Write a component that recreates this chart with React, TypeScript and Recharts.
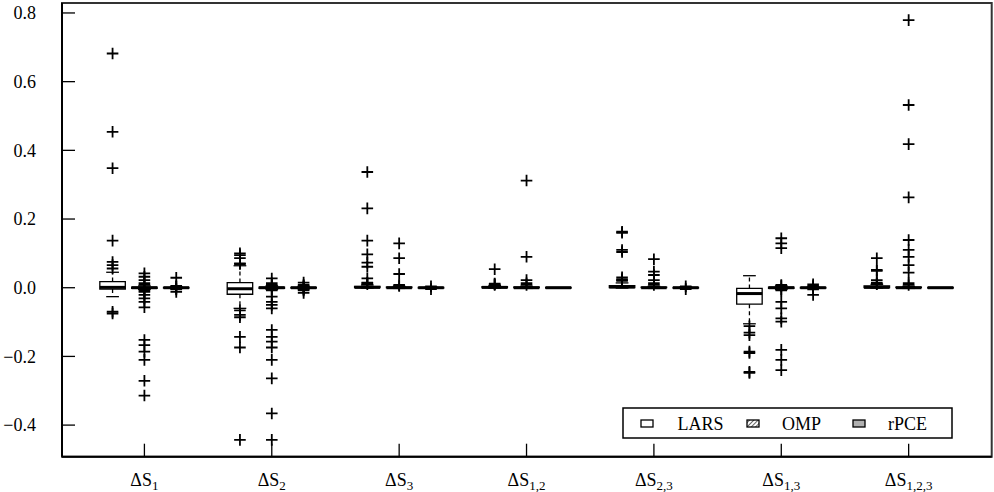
import React from "react";
import {
  ComposedChart,
  XAxis,
  YAxis,
  Scatter,
  ReferenceArea,
  ReferenceLine,
  Legend,
} from "recharts";

// ---------- data ----------
const categorySubs = ["1", "2", "3", "1,2", "2,3", "1,3", "1,2,3"];
const yTicks = [-0.4, -0.2, 0.0, 0.2, 0.4, 0.6, 0.8];

// LARS box statistics per category
const larsQ1 = [-0.004, -0.019, 0.0, 0.0, 0.0, -0.048, 0.0];
const larsMed = [0.001, -0.003, 0.001, 0.001, 0.002, -0.017, 0.001];
const larsQ3 = [0.018, 0.015, 0.004, 0.003, 0.006, -0.002, 0.005];
const larsWLo = [-0.026, -0.06, -0.001, -0.001, -0.001, -0.105, -0.001];
const larsWHi = [0.045, 0.064, 0.008, 0.006, 0.014, 0.035, 0.01];
const larsOut = [
  [0.682, 0.454, 0.348, 0.137, 0.075, 0.066, 0.056, -0.07, -0.075],
  [0.1, 0.095, 0.086, 0.071, 0.069, -0.066, -0.079, -0.086, -0.143, -0.174, -0.443],
  [0.337, 0.231, 0.137, 0.097, 0.073, 0.061, 0.027, 0.015, 0.013, 0.01],
  [0.054, 0.012, 0.01, 0.008],
  [0.163, 0.16, 0.11, 0.104, 0.03, 0.025, 0.022, 0.02],
  [-0.112, -0.131, -0.138, -0.186, -0.19, -0.245, -0.248],
  [0.086, 0.052, 0.049, 0.022, 0.015, 0.012, 0.01],
];

// OMP box statistics per category
const ompQ1 = [-0.002, -0.002, 0.0, 0.0, 0.0, -0.002, 0.0];
const ompMed = [0.0, 0.0, 0.0, 0.0, 0.0, 0.0, 0.0];
const ompQ3 = [0.002, 0.002, 0.002, 0.002, 0.002, 0.002, 0.002];
const ompWLo = [-0.005, -0.005, -0.002, -0.002, -0.002, -0.005, -0.002];
const ompWHi = [0.005, 0.005, 0.004, 0.004, 0.004, 0.005, 0.004];
const ompOut = [
  [0.042, 0.032, 0.022, 0.013, 0.008, -0.008, -0.012, -0.021, -0.031, -0.041, -0.057, -0.152, -0.167, -0.186, -0.21, -0.271, -0.314],
  [0.027, 0.013, 0.008, 0.005, -0.005, -0.008, -0.026, -0.041, -0.05, -0.06, -0.123, -0.143, -0.157, -0.174, -0.21, -0.264, -0.366, -0.443],
  [0.129, 0.086, 0.04, 0.008, 0.005],
  [0.312, 0.09, 0.022, 0.013, 0.008],
  [0.083, 0.047, 0.037, 0.022, 0.013, 0.008],
  [0.144, 0.129, 0.115, 0.008, 0.005, -0.005, -0.008, -0.041, -0.06, -0.089, -0.099, -0.181, -0.21, -0.24],
  [0.779, 0.532, 0.418, 0.263, 0.139, 0.11, 0.09, 0.066, 0.044, 0.013, 0.008],
];

// rPCE box statistics per category
const rpceQ1 = [-0.001, -0.001, -0.001, -0.001, -0.001, -0.001, -0.001];
const rpceMed = [0.0, 0.0, 0.0, 0.0, 0.0, 0.0, 0.0];
const rpceQ3 = [0.001, 0.001, 0.001, 0.001, 0.001, 0.001, 0.001];
const rpceWLo = [-0.002, -0.002, -0.002, -0.001, -0.002, -0.002, -0.001];
const rpceWHi = [0.002, 0.002, 0.002, 0.001, 0.002, 0.002, 0.001];
const rpceOut = [
  [0.029, 0.005, 0.003, -0.003, -0.005, -0.012],
  [0.015, 0.008, 0.005, 0.003, -0.003, -0.005, -0.008, -0.015],
  [0.004, -0.004],
  [],
  [0.004, -0.004],
  [0.01, 0.005, -0.005, -0.021],
  [],
];

const methodNames = ["LARS", "OMP", "rPCE"];
const methodOffsets = [-0.25, 0, 0.25];

// ---------- styling ----------
const FONT = "Liberation Serif";
const textStyle: React.CSSProperties = { fontFamily: FONT, fontSize: 18 };
const INK = "#000";
const X_DOMAIN: [number, number] = [0.353, 7.652];
const Y_DOMAIN: [number, number] = [-0.492, 0.829];
const HALF_BOX = 0.1;
const HALF_CAP = 0.05;

const methods = [
  { name: methodNames[0], offset: methodOffsets[0], fill: "#ffffff", q1: larsQ1, med: larsMed, q3: larsQ3, lo: larsWLo, hi: larsWHi, out: larsOut },
  { name: methodNames[1], offset: methodOffsets[1], fill: "url(#hatchOMP)", q1: ompQ1, med: ompMed, q3: ompQ3, lo: ompWLo, hi: ompWHi, out: ompOut },
  { name: methodNames[2], offset: methodOffsets[2], fill: "#b0b0b0", q1: rpceQ1, med: rpceMed, q3: rpceQ3, lo: rpceWLo, hi: rpceWHi, out: rpceOut },
];

const fmtY = (v: number) => v.toFixed(1).replace("-", "\u2212");

const XTick = (props: any) => {
  const { x, y, payload } = props;
  const i = Math.round(payload.value) - 1;
  return (
    <g>
      <line x1={x} x2={x} y1={y} y2={y - 13} stroke={INK} strokeWidth={1.3} />
      <text x={x} y={y + 29.5} textAnchor="middle" style={textStyle} fill={INK}>
        ΔS
        <tspan style={{ fontSize: 13 }} dy={4}>
          {categorySubs[i]}
        </tspan>
      </text>
    </g>
  );
};

const YTick = (props: any) => {
  const { x, y, payload } = props;
  return (
    <g>
      <line x1={x} x2={x + 13} y1={y} y2={y} stroke={INK} strokeWidth={1.3} />
      <text x={x - 26} y={y} dy="0.35em" textAnchor="end" style={textStyle} fill={INK}>
        {fmtY(payload.value)}
      </text>
    </g>
  );
};

const PlusShape = (props: any) => {
  const { cx, cy } = props;
  if (cx == null || cy == null) return null;
  const r = 5.8;
  return (
    <path
      d={`M${cx - r},${cy}H${cx + r}M${cx},${cy - r}V${cy + r}`}
      stroke={INK}
      strokeWidth={1.8}
      fill="none"
    />
  );
};

const LegendBox = () => {
  const items = [
    { name: methodNames[0], sx: 19, tx: 55.5, fill: "#ffffff" },
    { name: methodNames[1], sx: 125, tx: 160, fill: "url(#hatchLeg)" },
    { name: methodNames[2], sx: 231, tx: 266, fill: "#b0b0b0" },
  ];
  return (
    <svg width={331} height={32} style={{ display: "block" }}>
      <defs>
        <pattern id="hatchLeg" patternUnits="userSpaceOnUse" width={3} height={3} patternTransform="rotate(45)">
          <line x1={0} y1={0} x2={0} y2={3} stroke={INK} strokeWidth={1.2} />
        </pattern>
      </defs>
      <rect x={1} y={1} width={329} height={30} fill="#fff" stroke={INK} strokeWidth={1.5} />
      {items.map((it) => (
        <g key={it.name}>
          <rect x={it.sx} y={13} width={12} height={7} fill={it.fill} stroke={INK} strokeWidth={1.3} />
          <text x={it.tx} y={23} style={textStyle} fill={INK}>
            {it.name}
          </text>
        </g>
      ))}
    </svg>
  );
};

export default function App() {
  const boxElements: React.ReactNode[] = [];
  methods.forEach((m, mi) => {
    categorySubs.forEach((_, ci) => {
      const x = ci + 1 + m.offset;
      const k = `${mi}-${ci}`;
      if (m.hi[ci] > m.q3[ci]) {
        boxElements.push(
          <ReferenceLine key={`wh-${k}`} segment={[{ x, y: m.q3[ci] }, { x, y: m.hi[ci] }]} stroke={INK} strokeWidth={1.3} strokeDasharray="4 3" />,
          <ReferenceLine key={`ch-${k}`} segment={[{ x: x - HALF_CAP, y: m.hi[ci] }, { x: x + HALF_CAP, y: m.hi[ci] }]} stroke={INK} strokeWidth={1.3} />
        );
      }
      if (m.lo[ci] < m.q1[ci]) {
        boxElements.push(
          <ReferenceLine key={`wl-${k}`} segment={[{ x, y: m.q1[ci] }, { x, y: m.lo[ci] }]} stroke={INK} strokeWidth={1.3} strokeDasharray="4 3" />,
          <ReferenceLine key={`cl-${k}`} segment={[{ x: x - HALF_CAP, y: m.lo[ci] }, { x: x + HALF_CAP, y: m.lo[ci] }]} stroke={INK} strokeWidth={1.3} />
        );
      }
      boxElements.push(
        <ReferenceArea
          key={`bx-${k}`}
          x1={x - HALF_BOX}
          x2={x + HALF_BOX}
          y1={m.q1[ci]}
          y2={m.q3[ci]}
          fill={m.fill}
          fillOpacity={1}
          stroke={INK}
          strokeWidth={1.3}
          ifOverflow="visible"
        />,
        <ReferenceLine
          key={`md-${k}`}
          segment={[{ x: x - HALF_BOX, y: m.med[ci] }, { x: x + HALF_BOX, y: m.med[ci] }]}
          stroke={INK}
          strokeWidth={3}
        />
      );
    });
  });

  const outlierSeries = methods.map((m) =>
    m.out.flatMap((vals, ci) => vals.map((v) => ({ x: ci + 1 + m.offset, y: v })))
  );

  return (
    <div style={{ position: "absolute", left: 0, top: 0, width: 994, height: 492, background: "#fff", fontFamily: FONT }}>
      <ComposedChart width={994} height={492} margin={{ top: 3, right: 2.3, bottom: 5.3, left: 2 }} style={{ fontFamily: FONT }}>
        <defs>
          <pattern id="hatchOMP" patternUnits="userSpaceOnUse" width={4} height={4} patternTransform="rotate(45)">
            <line x1={0} y1={0} x2={0} y2={4} stroke={INK} strokeWidth={1.2} />
          </pattern>
        </defs>
        <XAxis
          type="number"
          dataKey="x"
          domain={X_DOMAIN}
          allowDataOverflow
          ticks={[1, 2, 3, 4, 5, 6, 7]}
          interval={0}
          tick={<XTick />}
          tickLine={false}
          tickSize={0}
          tickMargin={0}
          height={30}
          axisLine={{ stroke: INK, strokeWidth: 2 }}
        />
        <YAxis
          type="number"
          dataKey="y"
          domain={Y_DOMAIN}
          allowDataOverflow
          ticks={yTicks}
          interval={0}
          tick={<YTick />}
          tickLine={false}
          tickSize={0}
          tickMargin={0}
          width={60}
          axisLine={{ stroke: INK, strokeWidth: 2 }}
        />
        <ReferenceArea
          x1={X_DOMAIN[0]}
          x2={X_DOMAIN[1]}
          y1={Y_DOMAIN[0]}
          y2={Y_DOMAIN[1]}
          fill="none"
          stroke="#333"
          strokeWidth={2}
          ifOverflow="visible"
        />
        {boxElements}
        {methods.map((m, mi) => (
          <Scatter
            key={m.name}
            name={m.name}
            data={outlierSeries[mi]}
            shape={<PlusShape />}
            isAnimationActive={false}
          />
        ))}
        <Legend
          verticalAlign="middle"
          align="center"
          content={() => <LegendBox />}
          wrapperStyle={{ left: 621.7, top: 407, width: "auto", height: "auto", margin: 0 }}
        />
      </ComposedChart>
    </div>
  );
}
